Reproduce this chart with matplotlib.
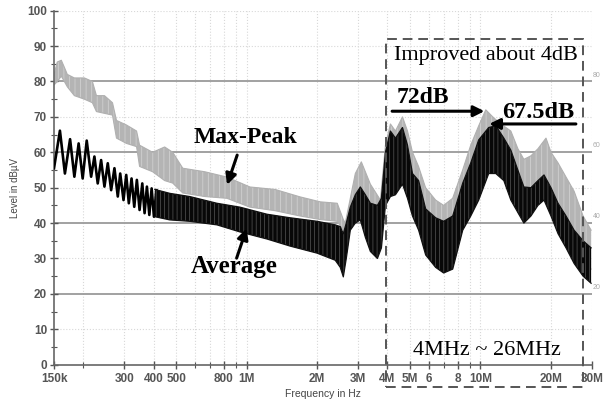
import matplotlib
matplotlib.use("Agg")
import matplotlib.pyplot as plt
from matplotlib.patches import Rectangle
from matplotlib.ticker import FixedLocator, NullFormatter

# frequencies in MHz, levels in dBuV

# Average trace, low band: individual ripple peaks/valleys
avg_ripple_f = [0.150, 0.159, 0.167, 0.1757, 0.1833, 0.1912, 0.1989, 0.2070,
                0.2162, 0.2233, 0.2307, 0.2385, 0.2465, 0.2547, 0.2633, 0.2720,
                0.2811, 0.2879, 0.2974, 0.3055, 0.3134, 0.3219, 0.3306, 0.3392,
                0.3484, 0.3578, 0.3660, 0.3745, 0.3835, 0.3923, 0.4013, 0.4110]
avg_ripple_lvl = [55.5, 66.1, 54.0, 63.7, 53.1, 62.5, 52.6, 63.3,
                  53.1, 58.8, 51.2, 57.8, 50.3, 56.9, 49.3, 55.5,
                  47.5, 54.0, 46.5, 53.6, 45.6, 52.6, 44.6, 52.2,
                  43.7, 51.2, 42.8, 50.3, 42.3, 49.8, 41.8, 49.3]

# Average trace, dense part: upper / lower envelope
avg_f = [0.405, 0.469, 0.571, 0.746, 0.936, 1.222, 1.534, 2.003, 2.393, 2.514,
         2.591, 2.668, 2.776, 2.916, 3.064, 3.219, 3.382, 3.625, 3.771, 3.923,
         4.121, 4.330, 4.640, 4.875, 5.12, 5.44, 5.83, 6.43, 6.96, 7.61,
         8.40, 9.09, 9.83, 10.85, 11.63, 12.59, 13.49, 14.45, 15.34, 16.44,
         17.62, 18.70, 20.03, 21.47, 23.23, 25.15, 27.48, 29.74]
avg_hi = [49.5, 48.4, 47.5, 45.6, 44.5, 42.5, 41.5, 40.5, 39.5, 39.0,
          37.0, 40.0, 44.5, 48.0, 50.2, 48.0, 45.6, 45.0, 47.0, 60.0,
          66.0, 64.0, 67.0, 62.0, 54.0, 52.0, 44.0, 41.5, 40.5, 42.0,
          51.3, 57.0, 63.5, 67.0, 67.5, 64.0, 60.6, 55.0, 50.2, 50.0,
          52.0, 53.6, 50.0, 45.6, 42.0, 38.0, 35.0, 33.0]
avg_lo = [41.8, 40.9, 40.5, 39.5, 37.5, 35.5, 33.5, 31.5, 29.5, 27.5,
          24.8, 30.0, 38.0, 40.0, 40.9, 36.0, 32.0, 30.0, 33.0, 45.0,
          47.5, 48.0, 51.0, 47.0, 42.0, 38.0, 31.0, 27.5, 25.9, 27.0,
          38.0, 42.0, 46.5, 54.0, 54.0, 52.0, 46.5, 43.0, 40.0, 42.0,
          45.0, 46.5, 42.0, 37.0, 33.0, 28.6, 25.0, 23.0]

# Max-Peak trace: upper / lower envelope
pk_f = [0.150, 0.1549, 0.1612, 0.1661, 0.1710, 0.1833, 0.2023, 0.2189,
        0.2278, 0.2465, 0.2668, 0.2775, 0.3063, 0.3382, 0.3484, 0.3962,
        0.4460, 0.4828, 0.5330, 0.6622, 0.8231, 1.033, 1.323, 1.693,
        2.064, 2.441, 2.591, 2.642, 2.776, 2.916, 3.094, 3.382, 3.734,
        3.923, 4.121, 4.330, 4.640, 4.875, 5.121, 5.435, 5.825, 6.431,
        6.960, 7.606, 8.395, 9.088, 9.833, 10.54, 11.29, 12.22, 13.49,
        14.46, 15.34, 16.44, 17.62, 19.07, 20.03, 21.47, 23.23, 25.15,
        27.48, 29.74]
pk_hi = [82.0, 85.5, 86.0, 84.0, 82.0, 81.0, 81.0, 80.0,
         76.0, 76.0, 74.0, 69.0, 67.7, 66.0, 62.0, 60.0,
         61.5, 60.0, 55.5, 54.5, 53.0, 50.2, 49.5, 47.4,
         46.0, 45.6, 41.0, 40.0, 47.0, 54.0, 57.3, 51.0, 46.5,
         62.0, 68.0, 66.0, 70.0, 66.0, 60.0, 56.0, 50.0, 46.5,
         45.0, 47.0, 55.0, 62.0, 67.5, 72.0, 70.0, 68.0, 66.0,
         61.0, 58.0, 59.0, 61.0, 64.0, 60.0, 57.0, 53.0, 49.0,
         42.0, 38.0]
pk_lo = [79.0, 80.0, 81.5, 80.0, 78.5, 76.0, 75.0, 74.0,
         71.5, 71.0, 70.5, 64.0, 62.5, 61.6, 56.0, 54.5,
         52.0, 51.3, 48.5, 47.5, 47.0, 44.5, 43.5, 42.0,
         41.0, 40.5, 38.0, 37.0, 40.0, 44.0, 46.0, 42.0, 40.0,
         45.0, 48.0, 49.0, 52.0, 49.0, 44.0, 40.0, 36.0, 32.0,
         30.0, 32.0, 40.0, 45.0, 50.0, 54.0, 55.0, 54.0, 50.0,
         47.0, 45.0, 46.0, 48.0, 50.0, 46.0, 42.0, 38.0, 34.0,
         30.0, 27.0]

xtick_pos = [0.15, 0.3, 0.4, 0.5, 0.8, 1, 2, 3, 4, 5, 6, 8, 10, 20, 30]
xtick_lbl = ["150k", "300", "400", "500", "800", "1M", "2M", "3M", "4M",
             "5M", "6", "8", "10M", "20M", "30M"]
minor_pos = [0.2, 0.6, 0.7, 0.9, 7, 9]
limit_lines = [20, 40, 60, 80]

serif = "Liberation Serif"
sans = "Liberation Sans"

plt.rcParams["hatch.linewidth"] = 0.6

fig = plt.figure(figsize=(6.11, 4.0), dpi=100)
ax = fig.add_axes([0.0884, 0.0883, 0.8805, 0.885])
ax.set_xscale("log")
ax.set_xlim(0.15, 30)
ax.set_ylim(0, 100)

# background grid
for y in range(10, 101, 10):
    if y in limit_lines:
        continue
    ax.axhline(y, color="#d8d8d8", lw=0.8, ls=":", zorder=0)
for x in xtick_pos[1:] + minor_pos:
    ax.axvline(x, color="#d8d8d8", lw=0.8, ls=":", zorder=0)
for y in limit_lines:
    ax.axhline(y, color="#9a9a9a", lw=1.3, zorder=1)
    ax.text(30.3, y + 0.8, str(y), fontsize=5, color="#aaaaaa",
            family=sans, va="bottom", ha="left")

# traces (vertical hatching mimics the dense receiver sweep)
ax.fill_between(pk_f, pk_lo, pk_hi, facecolor="#b4b4b4", hatch="|||",
                edgecolor="#d0d0d0", lw=0, zorder=2)
ax.plot(pk_f, pk_hi, color="#b0b0b0", lw=0.8, zorder=2)
ax.plot(pk_f, pk_lo, color="#b0b0b0", lw=0.8, zorder=2)
ax.plot(avg_ripple_f, avg_ripple_lvl, color="black", lw=1.9, zorder=3)
ax.fill_between(avg_f, avg_lo, avg_hi, facecolor="#080808", hatch="||||",
                edgecolor="#4a4a4a", lw=0, zorder=3)
ax.plot(avg_f, avg_hi, color="#111111", lw=0.9, zorder=3)
ax.plot(avg_f, avg_lo, color="#111111", lw=0.9, zorder=3)

# ticks
ax.xaxis.set_major_locator(FixedLocator(xtick_pos))
ax.set_xticklabels(xtick_lbl)
ax.xaxis.set_minor_locator(FixedLocator(minor_pos))
ax.xaxis.set_minor_formatter(NullFormatter())
ax.set_yticks(range(0, 101, 10))
ax.yaxis.set_minor_locator(FixedLocator(range(5, 100, 10)))
ax.tick_params(which="both", direction="inout", color="#555555")
ax.tick_params(which="major", length=6, width=1)
ax.tick_params(which="minor", length=4, width=0.8)
for lbl in ax.get_xticklabels() + ax.get_yticklabels():
    lbl.set_family(sans)
    lbl.set_fontsize(8.5)
    lbl.set_fontweight("bold")
    lbl.set_color("#555555")
ax.tick_params(axis="x", pad=3)
ax.tick_params(axis="y", pad=2)

for side in ("top", "right"):
    ax.spines[side].set_visible(False)
for side in ("left", "bottom"):
    ax.spines[side].set_color("#666666")
    ax.spines[side].set_linewidth(1.2)

ax.set_xlabel("Frequency in Hz", family=sans, fontsize=7.5, color="#444444",
              labelpad=3)
ax.set_ylabel("Level in dBµV", family=sans, fontsize=7, color="#444444",
              labelpad=5)

# annotations
arrow = dict(arrowstyle="-|>", color="black", lw=2.2, mutation_scale=16,
             shrinkA=0, shrinkB=0)
ax.text(0.993, 62.6, "Max-Peak", family=serif, fontweight="bold",
        fontsize=17, ha="center", va="baseline", zorder=5)
ax.annotate("", xy=(0.825, 50.8), xytext=(0.911, 59.2), arrowprops=arrow,
            zorder=5)
ax.text(0.884, 25.9, "Average", family=serif, fontweight="bold",
        fontsize=18, ha="center", va="baseline", zorder=5)
ax.annotate("", xy=(1.0, 38.5), xytext=(0.906, 30.1), arrowprops=arrow,
            zorder=5)

ax.text(4.25, 86.0, "Improved about 4dB", family=serif, fontsize=16,
        ha="left", va="baseline", zorder=5)
ax.text(4.40, 73.8, "72dB", family=serif, fontweight="bold", fontsize=17,
        ha="left", va="baseline", zorder=5)
ax.annotate("", xy=(10.4, 71.6), xytext=(4.19, 71.6), arrowprops=arrow,
            zorder=5)
ax.text(12.4, 69.6, "67.5dB", family=serif, fontweight="bold", fontsize=17.5,
        ha="left", va="baseline", zorder=5)
ax.annotate("", xy=(10.9, 68.0), xytext=(25.6, 68.0), arrowprops=arrow,
            zorder=5)
ax.text(5.17, 2.6, "4MHz ~ 26MHz", family=serif, fontsize=16,
        ha="left", va="baseline", zorder=5)

box = Rectangle((3.96, -6.3), 27.5 - 3.96, 92.0 + 6.3, fill=False,
                ls=(0, (5, 3)), lw=1.4, edgecolor="#555555", clip_on=False,
                zorder=6)
ax.add_patch(box)

fig.savefig("out.png", dpi=100)
